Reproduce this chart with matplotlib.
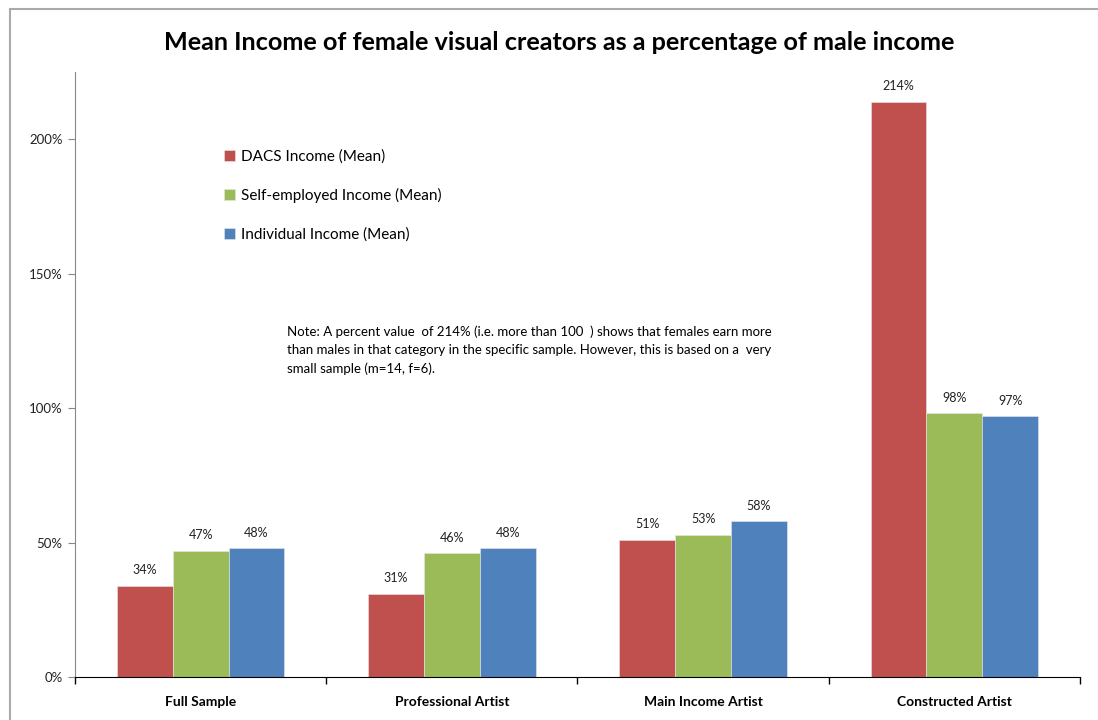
import numpy as np
import matplotlib.pyplot as plt
from matplotlib.patches import Rectangle
from matplotlib.ticker import FuncFormatter, FixedLocator

plt.rcParams['font.family'] = ['Lato', 'DejaVu Sans']

# data
categories = ['Full Sample', 'Professional Artist', 'Main Income Artist', 'Constructed Artist']
series_names = ['DACS Income (Mean)', 'Self-employed Income (Mean)', 'Individual Income (Mean)']
dacs = [0.34, 0.31, 0.51, 2.14]
self_employed = [0.47, 0.46, 0.53, 0.98]
individual = [0.48, 0.48, 0.58, 0.97]
colors = ['#C0504D', '#9BBB59', '#4F81BD']

title = 'Mean Income of female visual creators as a percentage of male income'
note = ('Note: A percent value  of 214% (i.e. more than 100  ) shows that females earn more\n'
        'than males in that category in the specific sample. However, this is based on a  very\n'
        'small sample (m=14, f=6).')

fig = plt.figure(figsize=(10.98, 7.2), dpi=100)
ax = fig.add_axes([0.0683, 0.0597, 0.9153, 0.8403])

x = np.arange(len(categories))
w = 0.222
for i, (vals, name) in enumerate(zip([dacs, self_employed, individual], series_names)):
    pos = x + (i - 1) * w
    ax.bar(pos, vals, width=w, color=colors[i], label=name, edgecolor='#e8e8e8', linewidth=0.4)
    for p, v in zip(pos, vals):
        ax.text(p, v + 0.035, f'{round(v * 100):.0f}%', ha='center', va='bottom',
                fontsize=9, color='#222222')

ax.set_xlim(-0.5, len(categories) - 0.5)
ax.set_ylim(0, 2.25)
ax.set_yticks([0, 0.5, 1.0, 1.5, 2.0])
ax.yaxis.set_major_formatter(FuncFormatter(lambda v, _: f'{v * 100:.0f}%'))
ax.tick_params(axis='y', labelsize=9.5, length=5, color='#888888', labelcolor='#222222', pad=4)

ax.set_xticks(x)
ax.set_xticklabels(categories, fontsize=10, fontweight='bold')
ax.tick_params(axis='x', length=0, pad=14)
ax.xaxis.set_minor_locator(FixedLocator(np.arange(-0.5, len(categories), 1.0)))
ax.tick_params(axis='x', which='minor', length=5, color='black', width=1)

for s in ['top', 'right']:
    ax.spines[s].set_visible(False)
ax.spines['left'].set_color('#888888')
ax.spines['bottom'].set_color('black')

fig.text(0.509, 1 - 42 / 720, title, ha='center', va='center', fontsize=18.2, fontweight='bold')

ax.legend(loc='upper left', bbox_to_anchor=(0.135, 0.895), frameon=False, fontsize=11,
          handlelength=0.7, handleheight=0.7, handletextpad=0.4, labelspacing=1.6)

fig.text(287 / 1098, 1 - 350 / 720, note, ha='left', va='center', fontsize=9.5,
         linespacing=1.6)

# outer chart frame
fig.patches.append(Rectangle((10 / 1098, -0.01), 1.1, 1 - 9 / 720 + 0.01,
                             transform=fig.transFigure, fill=False,
                             edgecolor='#aaaaaa', linewidth=1.5))

fig.savefig('out.png', dpi=100)
